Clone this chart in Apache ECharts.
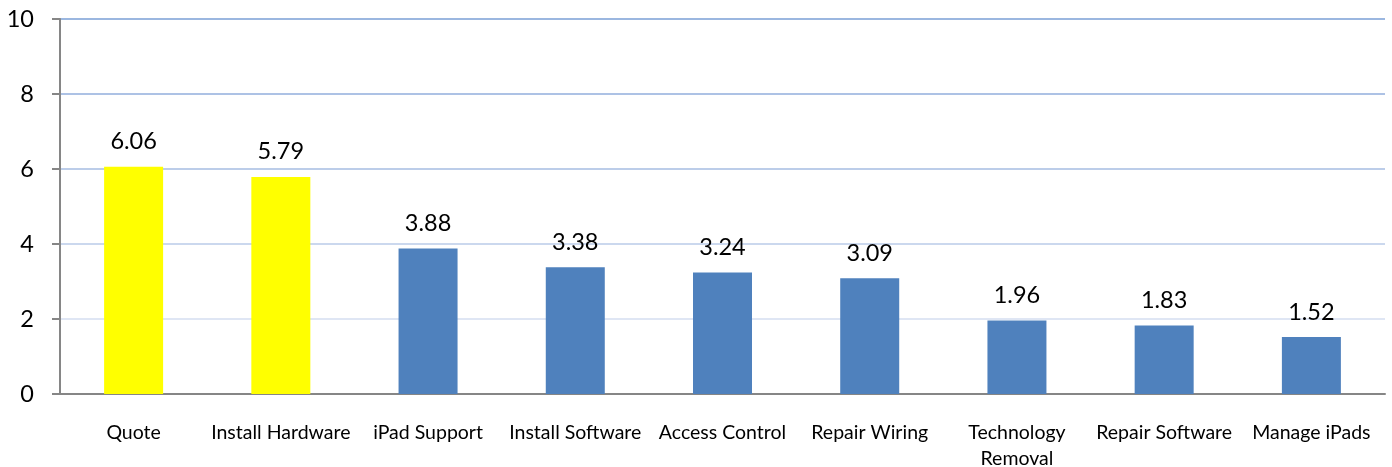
<!DOCTYPE html>
<html lang="en">
<head>
    <meta charset="UTF-8">
    <title>Bar Chart</title>
    <script src="https://cdn.jsdelivr.net/npm/echarts@6/dist/echarts.min.js"></script>
    <style>
        html, body { margin: 0; padding: 0; background: #fff; }
        #chart { width: 1392px; height: 467px; }
    </style>
</head>
<body>
    <div id="chart"></div>
    <script>
        // data
        const categories = ['Quote', 'Install Hardware', 'iPad Support', 'Install Software', 'Access Control',
            'Repair Wiring', 'Technology\nRemoval', 'Repair Software', 'Manage iPads'];
        const values = [6.06, 5.79, 3.88, 3.38, 3.24, 3.09, 1.96, 1.83, 1.52];
        const highlighted = ['Quote', 'Install Hardware'];

        const font = 'Lato, "Open Sans", sans-serif';
        let myChart = echarts.init(document.getElementById('chart'));

        let option = {
            animation: false,
            grid: { left: 60, right: 7, top: 19, bottom: 73, containLabel: false, outerBoundsMode: 'none' },
            xAxis: {
                type: 'category',
                data: categories,
                axisLine: { lineStyle: { color: '#868686', width: 2 } },
                axisTick: { show: false },
                axisLabel: {
                    interval: 0,
                    margin: 26,
                    color: '#000',
                    fontSize: 19.5,
                    fontFamily: font,
                    lineHeight: 26
                }
            },
            yAxis: {
                type: 'value',
                min: 0,
                max: 10,
                interval: 2,
                axisLine: { show: true, lineStyle: { color: '#868686', width: 2 } },
                axisTick: { show: true, length: 8, lineStyle: { color: '#868686', width: 2 } },
                axisLabel: { color: '#000', fontSize: 23.5, fontFamily: font, margin: 26 },
                splitLine: {
                    lineStyle: {
                        color: ['#ffffff', '#dfe6f4', '#cbd8ee', '#bccde9', '#adc2e5', '#9bb7e0'],
                        width: 2
                    }
                }
            },
            series: [{
                type: 'bar',
                barWidth: 59,
                data: values.map((v, i) => ({
                    value: v,
                    itemStyle: { color: highlighted.includes(categories[i]) ? '#ffff00' : '#4f81bd' }
                })),
                label: {
                    show: true,
                    position: 'top',
                    distance: 13,
                    color: '#000',
                    fontSize: 23.5,
                    fontFamily: font,
                    formatter: p => p.value.toFixed(2)
                }
            }]
        };

        myChart.setOption(option);
    </script>
</body>
</html>
